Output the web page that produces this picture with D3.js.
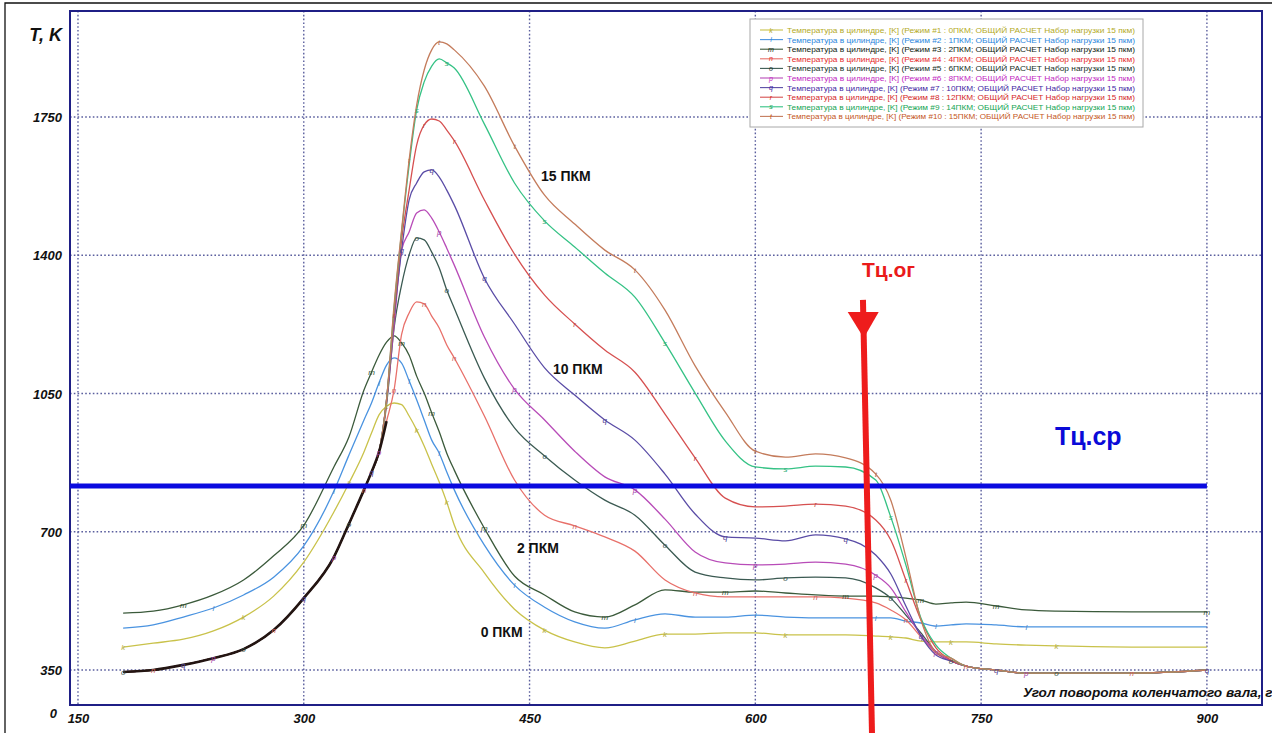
<!DOCTYPE html>
<html>
<head>
<meta charset="utf-8">
<script src="https://cdn.jsdelivr.net/npm/d3@7"></script>
<style>
  html, body { margin: 0; padding: 0; background: #fff; }
  svg { display: block; }
</style>
</head>
<body>
<svg id="chart" width="1280" height="733"></svg>
<script>
// Crank angle, degrees
const angles = [180,200,220,240,260,280,300,320,330,340,345,350,355,360,365,370,375,380,385,390,395,400,
                420,440,460,480,500,520,540,560,580,600,620,640,660,680,690,700,710,720,730,740,760,780,800,850,900];

// In-cylinder temperature, K, one array per load mode
const temp0pkm  = [408,418,428,449,484,537,623,750,823,902,950,996,1018,1026,1022,993,958,917,871,826,775,717,
                   596,504,451,421,406,423,441,441,444,444,439,439,439,436,434,431,423,421,421,421,416,413,411,408,408];
const temp1pkm  = [456,464,484,507,540,585,664,803,894,983,1026,1077,1122,1140,1127,1082,1034,983,932,899,851,806,
                   666,565,509,472,456,477,492,484,484,489,484,482,482,482,482,474,469,461,464,467,464,459,459,459,459];
const temp2pkm  = [494,499,515,540,578,639,716,864,940,1059,1104,1147,1180,1196,1178,1147,1094,1051,1001,953,899,856,
                   709,588,540,497,484,515,553,547,547,550,545,540,537,537,535,532,527,517,520,522,512,502,499,497,497];
const temp4pkm  = [345,350,363,380,403,451,532,636,720,806,851,902,980,1059,1200,1254,1282,1277,1246,1216,1173,1140,
                   993,831,742,715,687,651,578,545,535,535,535,535,532,520,502,477,434,393,373,360,350,342,342,342,350];
const temp6pkm  = [345,350,363,380,403,451,532,636,720,806,851,902,1021,1216,1325,1401,1444,1439,1408,1368,1312,1266,
                   1089,963,892,831,780,742,666,598,583,578,583,585,583,558,532,489,444,396,373,360,350,342,342,342,350];
const temp8pkm  = [345,350,363,380,403,451,532,636,720,806,851,902,1029,1223,1413,1459,1507,1515,1494,1459,1418,1375,
                   1193,1061,983,904,839,806,732,649,621,616,618,623,618,590,558,497,439,396,373,360,350,342,342,342,350];
const temp10pkm = [345,350,363,380,403,451,532,636,720,806,851,902,1034,1241,1413,1540,1583,1611,1616,1598,1565,1527,
                   1342,1226,1115,1046,983,932,846,745,687,684,677,692,682,641,593,512,436,388,373,360,350,342,342,342,350];
const temp12pkm = [345,350,363,380,403,451,532,636,720,806,851,902,1034,1249,1439,1565,1679,1730,1745,1740,1717,1690,
                   1540,1403,1299,1226,1160,1104,998,887,785,763,765,770,765,730,679,578,477,406,375,360,350,342,342,342,350];
const temp14pkm = [345,350,363,380,403,451,532,636,720,806,851,902,1034,1266,1459,1628,1768,1839,1879,1897,1887,1874,
                   1732,1583,1487,1421,1355,1294,1178,1051,930,864,859,866,864,831,737,616,482,413,380,360,350,342,342,342,350];
const temp15pkm = [345,350,363,380,403,451,532,636,720,806,851,902,1034,1274,1464,1641,1780,1869,1920,1940,1935,1920,
                   1828,1677,1552,1479,1413,1363,1261,1120,1003,904,889,897,887,846,780,636,477,396,380,360,350,342,342,342,350];

const seriesTemps   = [temp0pkm, temp1pkm, temp2pkm, temp4pkm, temp6pkm, temp8pkm, temp10pkm, temp12pkm, temp14pkm, temp15pkm];
const seriesMarks   = ['k','l','m','n','o','p','q','r','s','t'];
const seriesModes   = ['0ПКМ','1ПКМ','2ПКМ','4ПКМ','6ПКМ','8ПКМ','10ПКМ','12ПКМ','14ПКМ','15ПКМ'];
const lineColors    = ['#c9c24a','#4a93e0','#3b5a3b','#e8706a','#3b5a52','#b84cb8','#5a4ca6','#d65050','#35c285','#c47c5c'];
const legendColors  = ['#b3aa1e','#2b86dc','#102410','#e42a2a','#16301f','#c21fc2','#3f1fa3','#d41f1f','#12a452','#c4561c'];

const xTicks = [150, 300, 450, 600, 750, 900];
const yTicks = [350, 700, 1050, 1400, 1750];

// Reference levels: mean cycle temperature and exhaust-gas temperature marker
const tcAverage = 816;
const tcExhaustTop    = { angle: 671.5, temp: 1287 };
const tcExhaustBottom = { angle: 677.5, temp: 190 };

// Curve group captions
const groupLabels = [
  { text: '15 ПКМ', angle: 457.6, temp: 1588 },
  { text: '10 ПКМ', angle: 465.5, temp: 1099 },
  { text: '2 ПКМ',  angle: 441.6, temp: 646 },
  { text: '0 ПКМ',  angle: 417.5, temp: 433 }
];

const FONT = '"Liberation Sans", Arial, Helvetica, sans-serif';

const svg = d3.select('#chart');
const W = 1280, H = 733;
const plot = { left: 70, top: 11, right: 1262, bottom: 705 };

svg.append('rect').attr('width', W).attr('height', H).attr('fill', '#fff');

// Outer frame (left and top edges of the sheet)
svg.append('path')
  .attr('d', `M5,${H} L5,3 L${W - 8},3`)
  .attr('fill', 'none').attr('stroke', '#111').attr('stroke-width', 1.3);

const x = d3.scaleLinear().domain([144.7, 936.6]).range([plot.left, plot.right]);
const y = d3.scaleLinear().domain([261.4, 2018.4]).range([plot.bottom, plot.top]);

// Dotted grid
const grid = svg.append('g').attr('stroke', '#5b5f9e').attr('stroke-width', 1.4)
  .attr('stroke-dasharray', '1.6,2.2').attr('fill', 'none');
grid.selectAll('line.v').data(xTicks).join('line')
  .attr('x1', d => x(d)).attr('x2', d => x(d)).attr('y1', plot.top).attr('y2', plot.bottom);
grid.selectAll('line.h').data(yTicks).join('line')
  .attr('x1', plot.left).attr('x2', plot.right).attr('y1', d => y(d)).attr('y2', d => y(d));

// Plot frame
svg.append('rect')
  .attr('x', plot.left).attr('y', plot.top)
  .attr('width', plot.right - plot.left).attr('height', plot.bottom - plot.top)
  .attr('fill', 'none').attr('stroke', '#1f1f86').attr('stroke-width', 2);

// Axis tick labels
const xAxis = d3.axisBottom(x).tickValues(xTicks).tickFormat(d3.format('d')).tickSize(0).tickPadding(0);
const gx = svg.append('g').attr('transform', `translate(0,${plot.bottom})`).call(xAxis);
gx.select('.domain').remove();
gx.selectAll('text')
  .attr('y', 18).attr('dy', 0)
  .attr('font-family', FONT).attr('font-size', 13).attr('font-weight', 'bold').attr('font-style', 'italic')
  .attr('fill', '#111');

const yAxis = d3.axisLeft(y).tickValues(yTicks).tickFormat(d3.format('d')).tickSize(0).tickPadding(0);
const gy = svg.append('g').attr('transform', `translate(${plot.left},0)`).call(yAxis);
gy.select('.domain').remove();
gy.selectAll('text')
  .attr('x', -8).attr('dy', '0.35em')
  .attr('font-family', FONT).attr('font-size', 13).attr('font-weight', 'bold').attr('font-style', 'italic')
  .attr('fill', '#111');

svg.append('text').text('0')
  .attr('x', 57).attr('y', 718).attr('text-anchor', 'end')
  .attr('font-family', FONT).attr('font-size', 13).attr('font-weight', 'bold').attr('font-style', 'italic')
  .attr('fill', '#111');

svg.append('text').text('T, K')
  .attr('x', 62).attr('y', 41).attr('text-anchor', 'end')
  .attr('font-family', FONT).attr('font-size', 18).attr('font-weight', 'bold').attr('font-style', 'italic')
  .attr('fill', '#111');

// Axis title, clipped at the sheet edge
svg.append('clipPath').attr('id', 'sheet-clip')
  .append('rect').attr('x', 0).attr('y', 0).attr('width', 1272).attr('height', H);
svg.append('text').text('Угол поворота коленчатого вала, град')
  .attr('clip-path', 'url(#sheet-clip)')
  .attr('x', 1023).attr('y', 697)
  .attr('font-family', FONT).attr('font-size', 13.6).attr('font-weight', 'bold').attr('font-style', 'italic')
  .attr('fill', '#111');

// Temperature curves
const line = d3.line()
  .x((d, i) => x(angles[i]))
  .y(d => y(d))
  .curve(d3.curveMonotoneX);

const curves = svg.append('g').attr('fill', 'none');
seriesTemps.forEach((temps, si) => {
  curves.append('path')
    .attr('d', line(temps))
    .attr('stroke', lineColors[si])
    .attr('stroke-width', 1.3);
});

// Shared compression stroke of the higher-load modes (curves coincide there)
const compressionEnd = angles.indexOf(355);
curves.append('path')
  .attr('d', line(temp4pkm.slice(0, compressionEnd + 1)))
  .attr('stroke', '#231512').attr('stroke-width', 2.6);

// Letter markers along each curve, skipping ones that would collide
const markers = svg.append('g')
  .attr('font-family', FONT).attr('font-size', 8).attr('font-style', 'italic')
  .attr('text-anchor', 'middle');
const placed = [];
seriesTemps.forEach((temps, si) => {
  temps.forEach((v, i) => {
    if ((i + si) % 4 !== 0) return;
    const px = x(angles[i]), py = y(v);
    if (placed.some(p => Math.abs(p[0] - px) < 9 && Math.abs(p[1] - py) < 10)) return;
    placed.push([px, py]);
    markers.append('text')
      .text(seriesMarks[si])
      .attr('x', px).attr('y', py + 3)
      .attr('fill', d3.color(lineColors[si]).darker(0.3));
  });
});

// Mean cycle temperature line
svg.append('line')
  .attr('x1', plot.left).attr('x2', x(900))
  .attr('y1', y(tcAverage)).attr('y2', y(tcAverage))
  .attr('stroke', '#0a0adf').attr('stroke-width', 5);

// Exhaust-gas temperature marker arrow
const ax1 = x(tcExhaustTop.angle), ay1 = y(tcExhaustTop.temp);
const ax2 = x(tcExhaustBottom.angle), ay2 = y(tcExhaustBottom.temp);
svg.append('line')
  .attr('x1', ax1).attr('y1', ay1).attr('x2', ax2).attr('y2', ay2)
  .attr('stroke', '#ee1c1c').attr('stroke-width', 6);
const along = t => ax1 + (ax2 - ax1) * (t - ay1) / (ay2 - ay1);
const headBase = ay1 + 12, headTip = ay1 + 38;
svg.append('path')
  .attr('d', `M${along(headBase) - 15.5},${headBase} L${along(headBase) + 15.5},${headBase} L${along(headTip)},${headTip} Z`)
  .attr('fill', '#ee1c1c');

svg.append('text').text('Tц.ог')
  .attr('x', x(670.8)).attr('y', y(1345))
  .attr('font-family', FONT).attr('font-size', 21).attr('font-weight', 'bold')
  .attr('fill', '#ea1a1a');

svg.append('text').text('Tц.ср')
  .attr('x', x(799)).attr('y', y(920))
  .attr('font-family', FONT).attr('font-size', 25).attr('font-weight', 'bold')
  .attr('fill', '#0a0ad8');

// Group captions
svg.append('g').selectAll('text').data(groupLabels).join('text')
  .text(d => d.text)
  .attr('x', d => x(d.angle)).attr('y', d => y(d.temp))
  .attr('font-family', FONT).attr('font-size', 14).attr('font-weight', 'bold')
  .attr('fill', '#111');

// Legend
const legend = svg.append('g').attr('transform', 'translate(750,19)');
legend.append('rect')
  .attr('width', 393).attr('height', 108)
  .attr('fill', '#fff').attr('stroke', '#a8a8a8').attr('stroke-width', 1);
seriesModes.forEach((mode, i) => {
  const row = legend.append('g').attr('transform', `translate(0,${11 + i * 9.6})`);
  row.append('line').attr('x1', 10).attr('x2', 33).attr('y1', 0).attr('y2', 0)
    .attr('stroke', lineColors[i]).attr('stroke-width', 1.1);
  row.append('text').text(seriesMarks[i])
    .attr('x', 21).attr('y', 2.5).attr('text-anchor', 'middle')
    .attr('font-family', FONT).attr('font-size', 7).attr('font-style', 'italic')
    .attr('fill', legendColors[i]);
  row.append('text')
    .text(`Температура в цилиндре, [K] (Режим #${i + 1} : ${mode}; ОБЩИЙ РАСЧЕТ  Набор нагрузки 15 пкм)`)
    .attr('x', 37).attr('y', 3)
    .attr('textLength', 348).attr('lengthAdjust', 'spacingAndGlyphs')
    .attr('font-family', FONT).attr('font-size', 8)
    .attr('fill', legendColors[i]);
});
</script>
</body>
</html>
